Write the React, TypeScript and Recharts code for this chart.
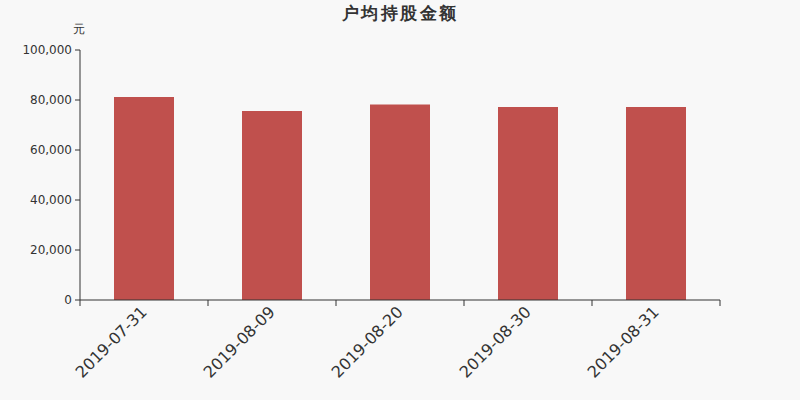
import React from 'react';
import { BarChart, Bar, XAxis, YAxis } from 'recharts';

const dates = ['2019-07-31', '2019-08-09', '2019-08-20', '2019-08-30', '2019-08-31'];
const amounts = [81200, 75600, 78200, 77200, 77200];
const yTicks = [0, 20000, 40000, 60000, 80000, 100000];

const data = dates.map((d, i) => ({ date: d, value: amounts[i] }));

const fmt = (v: number) => v.toLocaleString('en-US');

const XTick = (props: any) => {
  const { x, y, payload, index, visibleTicksCount } = props;
  const off = payload && payload.offset ? payload.offset : 0;
  const isLast = index === visibleTicksCount - 1;
  return (
    <g>
      <line x1={x - off} y1={y} x2={x - off} y2={y + 6} stroke="#333" />
      {isLast ? <line x1={x + off} y1={y} x2={x + off} y2={y + 6} stroke="#333" /> : null}
      <text
        transform={`translate(${x + 4},${y + 13}) rotate(-45)`}
        textAnchor="end"
        fontSize={16}
        fill="#333"
      >
        {payload.value}
      </text>
    </g>
  );
};

export default function App() {
  return (
    <div style={{ position: 'absolute', left: 0, top: 0, width: 800, height: 400, background: '#f8f8f8', fontFamily: '"DejaVu Sans", sans-serif' }}>
      <div style={{ position: 'absolute', left: 0, top: 2, width: 800, textAlign: 'center', fontSize: 17, fontWeight: 'bold', color: '#333', letterSpacing: 2.5, lineHeight: '22px' }}>
        户均持股金额
      </div>
      <div style={{ position: 'absolute', left: 73, top: 21, fontSize: 12, color: '#333', lineHeight: '16px' }}>元</div>
      <BarChart width={800} height={400} data={data} margin={{ top: 50, right: 80, left: 0, bottom: 0 }}>
        <XAxis
          dataKey="date"
          stroke="#333"
          tickLine={false}
          tickSize={0}
          tickMargin={0}
          height={100}
          interval={0}
          tick={<XTick />}
        />
        <YAxis
          domain={[0, 100000]}
          ticks={yTicks}
          tickFormatter={fmt}
          width={80}
          stroke="#333"
          tick={{ fontSize: 12, fill: '#333' }}
          tickSize={5}
          tickMargin={3}
          interval={0}
        />
        <Bar dataKey="value" fill="#c0504d" barSize={60} isAnimationActive={false} />
      </BarChart>
    </div>
  );
}
